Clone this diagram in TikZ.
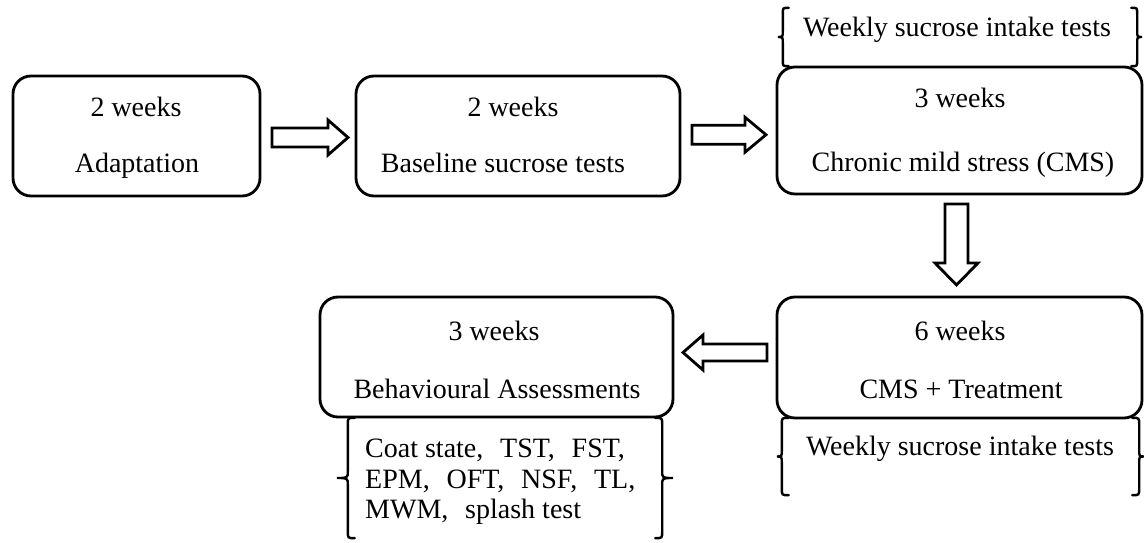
\documentclass[tikz,border=0pt]{standalone}
\usepackage{fontspec}
\setmainfont{Liberation Serif}
\usetikzlibrary{calc}

\tikzset{
  stage/.style={draw, line width=2.8pt, rounded corners=18pt, inner sep=0pt},
  bracket/.style={inner sep=0pt},
  label/.style={font=\fontsize{28}{30}\selectfont, inner sep=0pt, anchor=base},
  listline/.style={font=\fontsize{28}{30}\selectfont, inner sep=0pt, anchor=base west},
  hollowarrow/.style={draw, line width=2.8pt, line join=miter, fill=white},
  bracepen/.style={draw, line width=2.4pt, line cap=round},
}

% hollow block arrow centred between two anchors
% #1,#2 anchors, #3 offset, #4 direction, #5 half length,
% #6 shaft half width, #7 head half width, #8 head length
\newcommand\flowarrow[8]{%
  \begin{scope}[shift={($(#1)!0.5!(#2)+(#3)$)}, rotate=#4]
    \draw[hollowarrow] (-#5,#6) -- ({#5-#8},#6) -- ({#5-#8},#7) -- (#5,0)
      -- ({#5-#8},-#7) -- ({#5-#8},-#6) -- (-#5,-#6) -- cycle;
  \end{scope}}

% curly braces on the left and right side of a node
% #1 node, #2 depth of the point, #3 size of the end hooks
\newcommand\bracepair[3]{%
  \draw[bracepen] let \p1=(#1.north west), \p2=(#1.south east), \p3=(#1.west) in
    (\x1+#3,\y1) .. controls (\x1,\y1) .. (\x1,\y1-#3)
    -- (\x1,\y3+#3) .. controls (\x1,\y3) .. (\x1-#2,\y3)
    .. controls (\x1,\y3) .. (\x1,\y3-#3)
    -- (\x1,\y2+#3) .. controls (\x1,\y2) .. (\x1+#3,\y2)
    (\x2-#3,\y1) .. controls (\x2,\y1) .. (\x2,\y1-#3)
    -- (\x2,\y3+#3) .. controls (\x2,\y3) .. (\x2+#2,\y3)
    .. controls (\x2,\y3) .. (\x2,\y3-#3)
    -- (\x2,\y2+#3) .. controls (\x2,\y2) .. (\x2-#3,\y2);}

\begin{document}
\begin{tikzpicture}[x=1pt, y=1pt]
\useasboundingbox (0,0) rectangle (1144,542);

% stage boxes
\node[stage, minimum width=247pt, minimum height=120pt] (adapt) at (136.5,406) {};
\node[stage, minimum width=324pt, minimum height=120pt] (base) at (518,406) {};
\node[stage, minimum width=365pt, minimum height=127pt] (cms) at (959.5,411.5) {};
\node[stage, minimum width=365pt, minimum height=121pt] (treat) at (959.5,184.5) {};
\node[stage, minimum width=353pt, minimum height=120pt] (behav) at (496.5,185) {};

% bracketed notes
\node[bracket, minimum width=354pt, minimum height=58pt] (topnote) at (960,505) {};
\node[bracket, minimum width=357pt, minimum height=77pt] (midnote) at (960.5,85.5) {};
\node[bracket, minimum width=314pt, minimum height=120pt] (testnote) at (505,64) {};
\bracepair{topnote}{5pt}{6pt}
\bracepair{midnote}{5pt}{7pt}
\bracepair{testnote}{11pt}{7pt}

% texts
\node[label] (adaptT) at (136,425) {2 weeks};
\node[label] (adaptN) at (137,369) {Adaptation};
\node[label] (baseT) at (513,425) {2 weeks};
\node[label] (baseN) at (503,369) {Baseline sucrose tests};
\node[label] (cmsT) at (960,434) {3 weeks};
\node[label] (cmsN) at (963,370) {Chronic mild stress (CMS)};
\node[label] (topnoteT) at (957,505) {Weekly sucrose intake tests};
\node[label] (treatT) at (960,202) {6 weeks};
\node[label] (treatN) at (961,144) {CMS + Treatment};
\node[label] (midnoteT) at (960,87) {Weekly sucrose intake tests};
\node[label] (behavT) at (494,202) {3 weeks};
\node[label] (behavN) at (497,144) {Behavioural Assessments};
\node[listline] (testA) at (365,85) {Coat state,\hspace{0.6em}TST,\hspace{0.6em}FST,};
\node[listline] (testB) at (365,54) {EPM,\hspace{0.6em}OFT,\hspace{0.6em}NSF,\hspace{0.6em}TL,};
\node[listline] (testC) at (365,24) {MWM,\hspace{0.6em}splash test};

% arrows between the stages
\flowarrow{adapt.east}{base.west}{2,-1.5}{0}{38}{9.5}{17.5}{20}
\flowarrow{base.east}{cms.west}{0.5,-1.5}{0}{37}{9.5}{17.5}{21}
\flowarrow{cms.south}{treat.north}{-3,1}{-90}{40.5}{11.5}{21.5}{22}
\flowarrow{treat.west}{behav.east}{0,4.75}{180}{42}{8.5}{17.5}{20}
\end{tikzpicture}
\end{document}
